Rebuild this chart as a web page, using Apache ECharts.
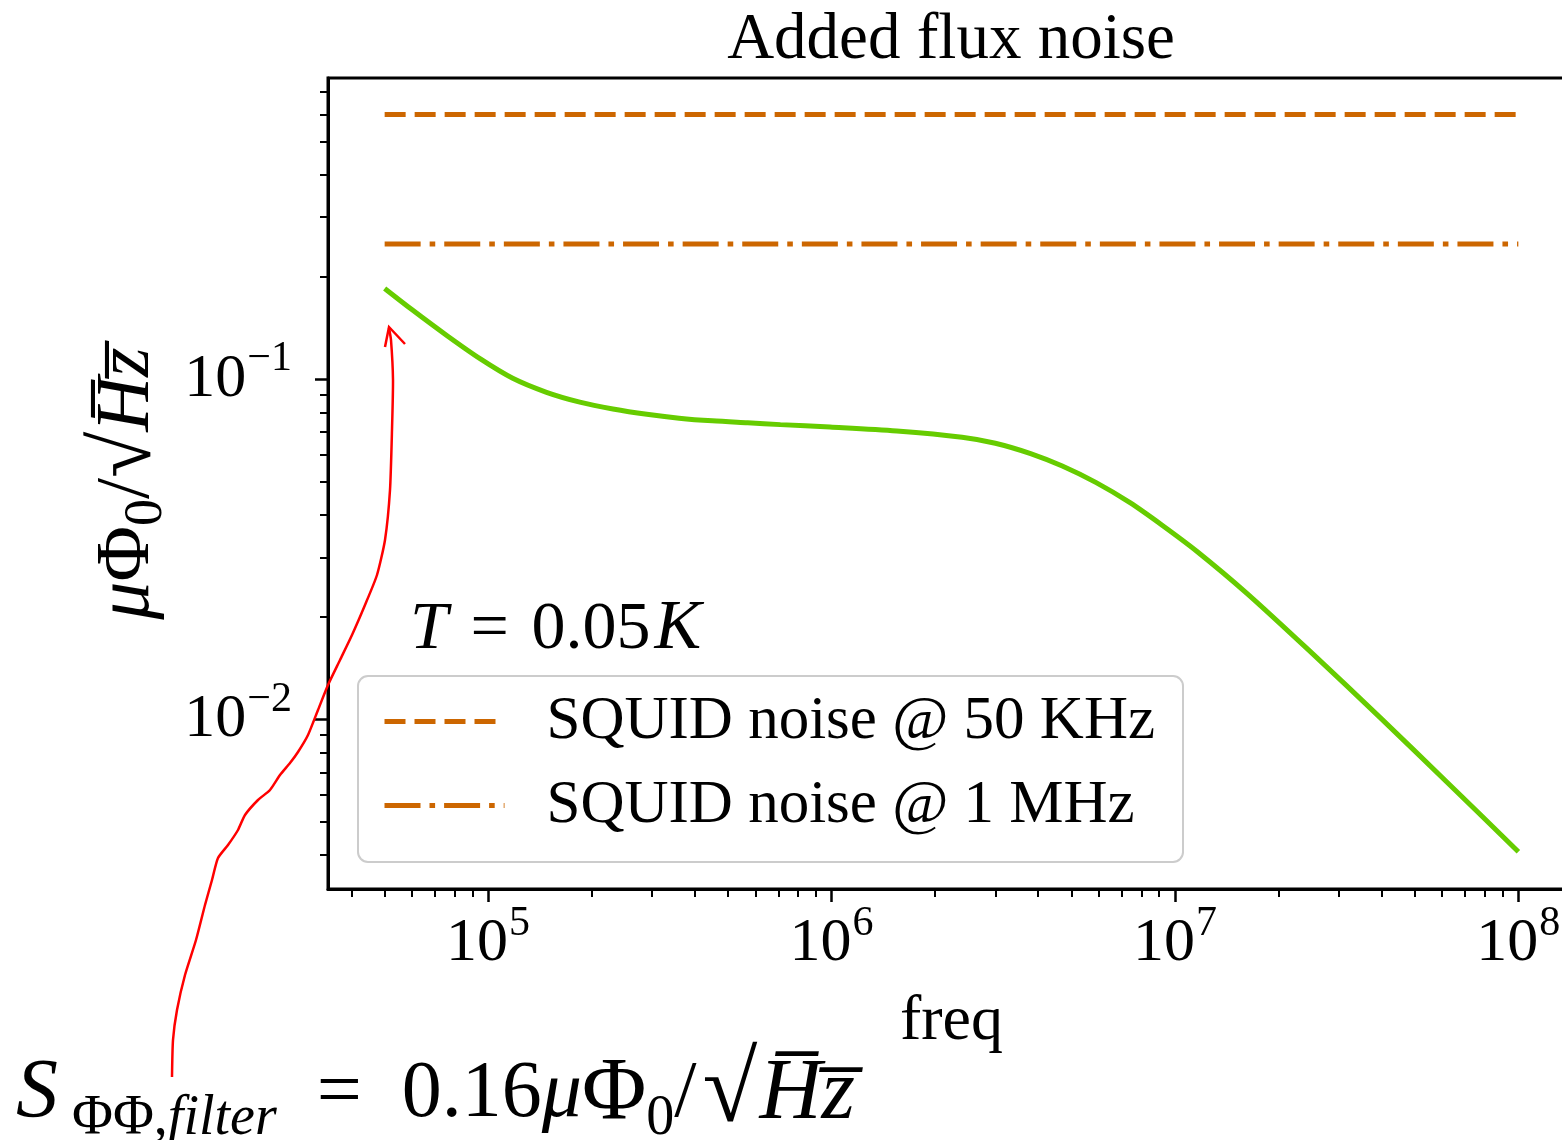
<!DOCTYPE html>
<html><head><meta charset="utf-8">
<script src="https://cdn.jsdelivr.net/npm/echarts@6/dist/echarts.min.js"></script>
<style>html,body{margin:0;padding:0;background:#fff;overflow:hidden}#c{width:1580px;height:1140px}</style>
</head><body><div id="c"></div>
<script>
// ---- data ----
const freqFilter = [5.0e4, 6.0e4, 7.6e4, 9.5e4, 1.18e5, 1.48e5, 1.85e5, 2.31e5, 2.9e5, 3.6e5, 4.5e5, 5.7e5, 7.1e5, 9.9e5, 1.55e6, 2.4e6, 3.0e6, 3.8e6, 4.7e6, 5.9e6, 7.4e6, 9.2e6, 1.16e7, 1.62e7, 2.52e7, 3.96e7, 6.2e7, 1.0e8];
const noiseFilter = [0.1849, 0.1603, 0.1343, 0.1148, 0.1007, 0.0916, 0.0857, 0.0818, 0.0789, 0.0769, 0.0755, 0.0745, 0.0736, 0.0724, 0.0705, 0.0676, 0.0649, 0.0605, 0.0556, 0.0497, 0.0434, 0.0372, 0.0312, 0.0235, 0.0156, 0.01014, 0.00655, 0.00409];
const squidFreq = [5e4, 1e8];
const squid50k = [0.6, 0.6];
const squid1M = [0.25, 0.25];
const seriesNames = ['SQUID noise @ 50 KHz', 'SQUID noise @ 1 MHz'];
const xMajorTicks = [1e5, 1e6, 1e7, 1e8];
const xMinorTicks = [4e4, 5e4, 6e4, 7e4, 8e4, 9e4, 2e5, 3e5, 4e5, 5e5, 6e5, 7e5, 8e5, 9e5, 2e6, 3e6, 4e6, 5e6, 6e6, 7e6, 8e6, 9e6, 2e7, 3e7, 4e7, 5e7, 6e7, 7e7, 8e7, 9e7];
const yMajorTicks = [0.01, 0.1];
const yMinorTicks = [0.004, 0.005, 0.006, 0.007, 0.008, 0.009, 0.02, 0.03, 0.04, 0.05, 0.06, 0.07, 0.08, 0.09, 0.2, 0.3, 0.4, 0.5, 0.6, 0.7];
const xRange = [34200, 1.462e8];
const yRange = [0.00318, 0.768];

// ---- styling ----
const FF = 'Liberation Serif';
const ORANGE = '#cc6600';
const GREEN = '#66cc00';
const zip = (a, b) => a.map((v, i) => [v, b[i]]);

function powLabel(v) {
  const e = Math.round(Math.log10(v));
  return '{b|10}{s|' + (e < 0 ? '\u2212' + (-e) : e) + '}';
}
const powRich = {
  b: { fontFamily: FF, fontSize: 62, lineHeight: 62, color: '#000' },
  s: { fontFamily: FF, fontSize: 42, lineHeight: 42, padding: [0, 0, 40, 1], color: '#000' }
};

const chart = echarts.init(document.getElementById('c'), null, { renderer: 'canvas' });
const option = {
  animation: false,
  backgroundColor: '#fff',
  grid: { left: 328, top: 78, width: 1247, height: 811, show: true, borderColor: '#000', borderWidth: 3, backgroundColor: 'transparent' },
  xAxis: [
    {
      type: 'log', logBase: 10, min: xRange[0], max: xRange[1], position: 'bottom',
      axisLine: { show: true, onZero: false, lineStyle: { color: '#000', width: 3 } },
      axisTick: { show: true, customValues: xMajorTicks, length: 13, lineStyle: { color: '#000', width: 2.5 } },
      axisLabel: { show: true, customValues: xMajorTicks, formatter: powLabel, rich: powRich, margin: 24, color: '#000' },
      splitLine: { show: false }, minorTick: { show: false },
      name: 'freq', nameLocation: 'middle', nameGap: 99,
      nameTextStyle: { fontFamily: FF, fontSize: 64, color: '#000' }
    },
    {
      type: 'log', logBase: 10, min: xRange[0], max: xRange[1], position: 'bottom',
      axisLine: { show: false },
      axisTick: { show: true, customValues: xMinorTicks, length: 8, lineStyle: { color: '#000', width: 2 } },
      axisLabel: { show: false }, splitLine: { show: false }
    }
  ],
  yAxis: [
    {
      type: 'log', logBase: 10, min: yRange[0], max: yRange[1], position: 'left',
      axisLine: { show: true, onZero: false, lineStyle: { color: '#000', width: 3 } },
      axisTick: { show: true, customValues: yMajorTicks, length: 13, lineStyle: { color: '#000', width: 2.5 } },
      axisLabel: { show: true, customValues: yMajorTicks, formatter: powLabel, rich: powRich, margin: 36, color: '#000' },
      splitLine: { show: false }, minorTick: { show: false },
      name: '{i|\u03bc}{n|\u03a6}{sub|0}{n|/}{r|\u221a}{i|H\u0305z\u0305}',
      nameLocation: 'middle', nameGap: 158, nameRotate: 90,
      nameTextStyle: {
        color: '#000',
        rich: {
          n: { fontFamily: FF, fontSize: 76, lineHeight: 76, color: '#000' },
          r: { fontFamily: FF, fontSize: 84, lineHeight: 76, color: '#000' },
          i: { fontFamily: FF, fontSize: 76, fontStyle: 'italic', lineHeight: 76, color: '#000' },
          sub: { fontFamily: FF, fontSize: 54, lineHeight: 54, padding: [36, 0, 0, 0], color: '#000' }
        }
      }
    },
    {
      type: 'log', logBase: 10, min: yRange[0], max: yRange[1], position: 'left',
      axisLine: { show: false },
      axisTick: { show: true, customValues: yMinorTicks, length: 8, lineStyle: { color: '#000', width: 2 } },
      axisLabel: { show: false }, splitLine: { show: false }
    }
  ],
  legend: {
    data: seriesNames,
    orient: 'vertical', left: 358, top: 676,
    itemWidth: 120, itemHeight: 20, itemGap: 23,
    padding: [15, 28, 26, 24],
    backgroundColor: 'rgba(255,255,255,0.8)', borderColor: '#cccccc', borderWidth: 2, borderRadius: 10,
    itemStyle: { opacity: 0 },
    lineStyle: { width: 5 },
    textStyle: { fontFamily: FF, fontSize: 61, lineHeight: 60, color: '#000', padding: [0, 0, 0, 37] }
  },
  series: [
    {
      name: seriesNames[0], type: 'line', xAxisIndex: 0, yAxisIndex: 0,
      data: zip(squidFreq, squid50k), symbol: 'none',
      lineStyle: { color: ORANGE, width: 5, type: [21, 9], cap: 'butt' }, itemStyle: { color: ORANGE }
    },
    {
      name: seriesNames[1], type: 'line', xAxisIndex: 0, yAxisIndex: 0,
      data: zip(squidFreq, squid1M), symbol: 'none',
      lineStyle: { color: ORANGE, width: 5, type: [36, 9, 5.6, 9], cap: 'butt' }, itemStyle: { color: ORANGE }
    },
    {
      name: 'filter', type: 'line', xAxisIndex: 0, yAxisIndex: 0,
      data: zip(freqFilter, noiseFilter), symbol: 'none', smooth: 0.3,
      lineStyle: { color: GREEN, width: 5 }, itemStyle: { color: GREEN }
    }
  ],
  graphic: [
    {
      type: 'text', x: 951, y: 41, z: 100,
      style: { text: 'Added flux noise', fontFamily: FF, fontSize: 65, fill: '#000', align: 'center', verticalAlign: 'middle' }
    },
    {
      type: 'text', x: 410, y: 630, z: 100,
      style: {
        text: '{i|T}{n|\u2004=\u20040.05}{k|K}', align: 'left', verticalAlign: 'middle',
        rich: {
          n: { fontFamily: FF, fontSize: 68, fill: '#000' },
          i: { fontFamily: FF, fontSize: 68, fontStyle: 'italic', fill: '#000' },
          k: { fontFamily: FF, fontSize: 70, fontStyle: 'italic', fill: '#000', padding: [0, 0, 0, 4] }
        }
      }
    },
    {
      type: 'text', x: 12, y: 1095, z: 100,
      style: {
        text: '{S|S}{sub|\u03a6\u03a6,}{subi|filter}{n|\u2002=\u20020.16}{i|\u03bc}{P|\u03a6}{sub|0}{n|/}{r|\u221a}{h|H\u0305z\u0305}',
        align: 'left', verticalAlign: 'middle',
        rich: {
          S: { fontFamily: FF, fontSize: 84, lineHeight: 80, fontStyle: 'italic', padding: [0, 14, 0, 4], fill: '#000' },
          n: { fontFamily: FF, fontSize: 80, lineHeight: 80, fill: '#000' },
          P: { fontFamily: FF, fontSize: 88, lineHeight: 80, fill: '#000' },
          r: { fontFamily: FF, fontSize: 100, lineHeight: 80, padding: [0, 2, 0, 6], fill: '#000' },
          i: { fontFamily: FF, fontSize: 80, lineHeight: 80, fontStyle: 'italic', fill: '#000' },
          h: { fontFamily: FF, fontSize: 86, lineHeight: 80, fontStyle: 'italic', fill: '#000' },
          sub: { fontFamily: FF, fontSize: 56, lineHeight: 56, padding: [48, 0, 0, 0], fill: '#000' },
          subi: { fontFamily: FF, fontSize: 56, lineHeight: 56, fontStyle: 'italic', padding: [48, 0, 0, 0], fill: '#000' }
        }
      }
    },
    {
      type: 'polyline', z: 101,
      shape: {
        points: [[172, 1077], [173, 1040], [177, 1010], [185, 975], [196, 940], [205, 905], [212, 880], [218, 858], [228, 845], [238, 830], [245, 815], [258, 800], [270, 790], [280, 775], [290, 763], [298, 752], [308, 735], [318, 710], [328, 685], [340, 660], [352, 635], [365, 605], [377, 575], [385, 540], [390, 490], [392, 430], [393, 380], [391, 340], [389, 328]],
        smooth: 0.2
      },
      style: { stroke: '#ff0000', lineWidth: 2.5, fill: null }
    },
    {
      type: 'polyline', z: 101,
      shape: { points: [[385, 347], [389, 327], [405, 344]] },
      style: { stroke: '#ff0000', lineWidth: 2.5, fill: null }
    }
  ]
};
chart.setOption(option);
</script>
</body></html>
